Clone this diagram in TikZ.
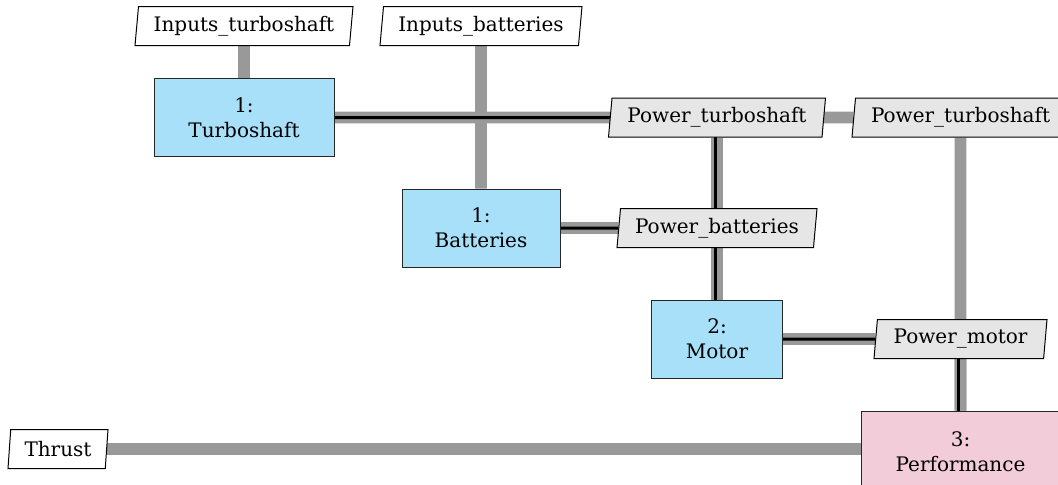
\documentclass[tikz,border=0pt]{standalone}
\usepackage{fontspec}
\setmainfont{DejaVu Serif}
\usetikzlibrary{shapes.geometric,backgrounds}
\definecolor{funcblue}{RGB}{168,224,250}
\definecolor{perfpink}{RGB}{242,204,217}
\definecolor{datagray}{RGB}{230,230,230}
\definecolor{flowgray}{RGB}{153,153,153}
\begin{document}
\begin{tikzpicture}[x=0.5pt,y=-0.5pt,
  txt/.style={font=\fontsize{10}{12.5}\selectfont},
  func/.style={txt, draw=black!85, line width=0.5pt, fill=funcblue, minimum height=39pt, align=center, inner sep=0pt},
  perf/.style={func, fill=perfpink},
  datab/.style={txt, trapezium, trapezium left angle=80, trapezium right angle=100, trapezium stretches body, draw=black, line width=0.5pt, minimum height=19.5pt, inner sep=0pt},
  dataw/.style={datab, fill=white},
  datag/.style={datab, fill=datagray},
  dflow/.style={draw=flowgray, line width=5.8pt},
  pflow/.style={draw=black, line width=1.5pt}]
\useasboundingbox (0,0) rectangle (1058,484);
% functions
\node[func, minimum width=90pt] (Turb) at (244,117.5) {1:\\Turboshaft};
\node[func, minimum width=79pt] (Bat) at (481,228) {1:\\Batteries};
\node[func, minimum width=65.5pt] (Mot) at (717,339) {2:\\Motor};
\node[perf, minimum width=99pt, minimum height=41pt] (Perf) at (960.5,452) {3:\\Performance};
% data
\node[dataw, minimum width=109pt] (IT) at (244,26) {Inputs\_turboshaft};
\node[dataw, minimum width=101pt] (IB) at (481,26) {Inputs\_batteries};
\node[datag, minimum width=108.5pt] (PT1) at (717,117.5) {Power\_turboshaft};
\node[datag, minimum width=108.5pt] (PT2) at (960.5,117.5) {Power\_turboshaft};
\node[datag, minimum width=100pt] (PB) at (717,228) {Power\_batteries};
\node[datag, minimum width=86.5pt] (PM) at (960.5,339) {Power\_motor};
\node[dataw, minimum width=50pt] (Thrust) at (58,449) {Thrust};
\begin{pgfonlayer}{background}
  % data flow
  \draw[dflow] (IT) -- (Turb);
  \draw[dflow] (IB) -- (Bat);
  \draw[dflow] (Turb) -- (PT2);
  \draw[dflow] (PT1) -- (Mot);
  \draw[dflow] (PT2) -- (Perf);
  \draw[dflow] (Bat) -- (PB);
  \draw[dflow] (Mot) -- (PM);
  \draw[dflow] (PM) -- (Perf);
  \draw[dflow] (Thrust) -- (Thrust -| Perf);
  % process flow
  \draw[pflow] (Turb) -- (PT1);
  \draw[pflow] ([xshift=-0.8pt]PT1.center) -- ([xshift=-0.8pt]PT1.center |- Mot.center);
  \draw[pflow] (Bat) -- (PB);
  \draw[pflow] (Mot) -- (PM);
  \draw[pflow] ([xshift=-0.8pt]PM.center) -- ([xshift=-0.8pt]PM.center |- Perf.center);
\end{pgfonlayer}
\end{tikzpicture}
\end{document}
